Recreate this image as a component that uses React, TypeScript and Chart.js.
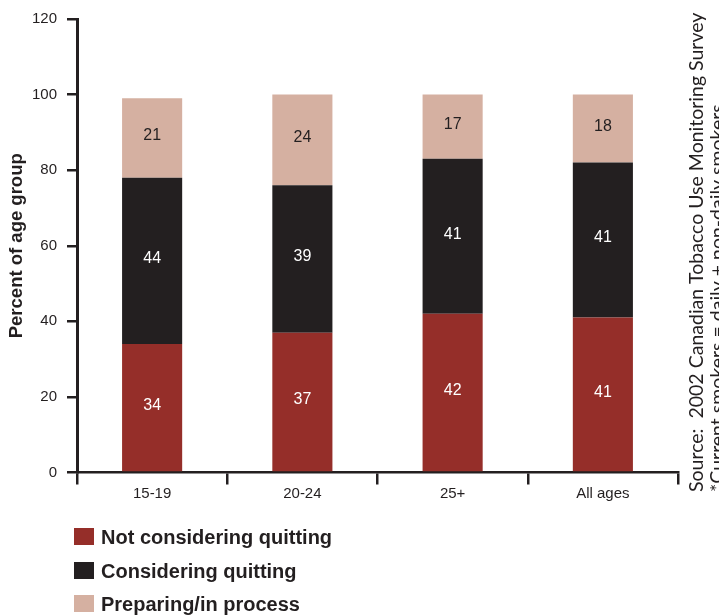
import React, { useEffect, useRef } from "react";
import { Chart, registerables } from "chart.js";

Chart.register(...registerables);

// Smoking-cessation stage of current smokers, by age group (percent)
const categories = ["15-19", "20-24", "25+", "All ages"];
const notConsidering = [34, 37, 42, 41];
const considering = [44, 39, 41, 41];
const preparing = [21, 24, 17, 18];

const seriesLabels = ["Not considering quitting", "Considering quitting", "Preparing/in process"];
const seriesColors = ["#952E29", "#231F20", "#D5B0A1"];
const valueLabelColors = ["#FFFFFF", "#FFFFFF", "#231F20"];

const yTicks = [0, 20, 40, 60, 80, 100, 120];
const yTitle = "Percent of age group";
const sourceLines = [
  "Source:  2002 Canadian Tobacco Use Monitoring Survey",
  "*Current smokers = daily + non-daily smokers",
];

const INK = "#231F20";
const SANS = "'Liberation Sans', Arial, sans-serif";

// Numbers centred inside each stacked segment
const segmentValues = {
  id: "segmentValues",
  afterDatasetsDraw(chart: any) {
    const ctx = chart.ctx;
    ctx.save();
    ctx.font = `16px ${SANS}`;
    ctx.textAlign = "center";
    ctx.textBaseline = "middle";
    chart.data.datasets.forEach((ds: any, di: number) => {
      const meta = chart.getDatasetMeta(di);
      ctx.fillStyle = valueLabelColors[di];
      meta.data.forEach((bar: any, i: number) => {
        const y = (bar.y + bar.base) / 2 - 2;
        ctx.fillText(String(ds.data[i]), bar.x, y);
      });
    });
    ctx.restore();
  },
};

// Vertical legend below the axis and rotated source note at the right edge
const sideNotes = {
  id: "sideNotes",
  afterDraw(chart: any) {
    const ctx = chart.ctx;
    ctx.save();
    const rows = [537, 571, 604];
    ctx.font = `bold 20px ${SANS}`;
    ctx.textAlign = "left";
    ctx.textBaseline = "middle";
    chart.data.datasets.forEach((ds: any, i: number) => {
      ctx.fillStyle = ds.backgroundColor;
      ctx.fillRect(74, rows[i] - 9, 20, 17);
      ctx.fillStyle = INK;
      ctx.fillText(ds.label, 101, rows[i] + 1);
    });

    ctx.font = `19.5px Lato, 'Open Sans', sans-serif`;
    ctx.fillStyle = INK;
    ctx.textAlign = "left";
    ctx.textBaseline = "alphabetic";
    const baselines = [703, 724];
    sourceLines.forEach((line, i) => {
      ctx.save();
      ctx.translate(baselines[i], 492);
      ctx.rotate(-Math.PI / 2);
      ctx.fillText(line, 0, 0);
      ctx.restore();
    });
    ctx.restore();
  },
};

export default function App() {
  const canvasRef = useRef<HTMLCanvasElement | null>(null);

  useEffect(() => {
    if (!canvasRef.current) return;
    const chart = new Chart(canvasRef.current, {
      type: "bar",
      data: {
        labels: categories,
        datasets: [notConsidering, considering, preparing].map((values, i) => ({
          label: seriesLabels[i],
          data: values,
          backgroundColor: seriesColors[i],
          borderWidth: 0,
          categoryPercentage: 0.8,
          barPercentage: 0.5,
        })),
      },
      options: {
        responsive: false,
        animation: false,
        layout: { padding: { left: 0, top: 17, right: 41, bottom: 0 } },
        plugins: {
          legend: { display: false },
          tooltip: { enabled: false },
        },
        scales: {
          x: {
            stacked: true,
            offset: true,
            border: { display: true, color: INK, width: 2.5 },
            grid: {
              offset: true,
              drawOnChartArea: false,
              drawTicks: true,
              tickLength: 12,
              color: INK,
              lineWidth: 2.5,
            },
            ticks: {
              color: INK,
              font: { family: SANS, size: 15 },
              padding: 0,
            },
            afterFit(scale: any) {
              scale.height = 143.5;
            },
          },
          y: {
            stacked: true,
            min: 0,
            max: 120,
            afterBuildTicks(scale: any) {
              scale.ticks = yTicks.map((v) => ({ value: v }));
            },
            border: { display: true, color: INK, width: 3 },
            grid: {
              drawOnChartArea: false,
              drawTicks: true,
              tickLength: 10,
              color: INK,
              lineWidth: 2.5,
            },
            ticks: {
              color: INK,
              font: { family: SANS, size: 15 },
              padding: 10,
            },
            title: {
              display: true,
              text: yTitle,
              color: INK,
              font: { family: SANS, size: 18.5, weight: "bold" },
              padding: { top: 6, bottom: 0 },
            },
            afterFit(scale: any) {
              scale.width = 77;
            },
          },
        },
      },
      plugins: [segmentValues, sideNotes],
    });
    return () => chart.destroy();
  }, []);

  return (
    <div style={{ position: "absolute", left: 0, top: 0, width: 719, height: 616, background: "#fff" }}>
      <canvas ref={canvasRef} width={719} height={616} style={{ display: "block" }} />
    </div>
  );
}
